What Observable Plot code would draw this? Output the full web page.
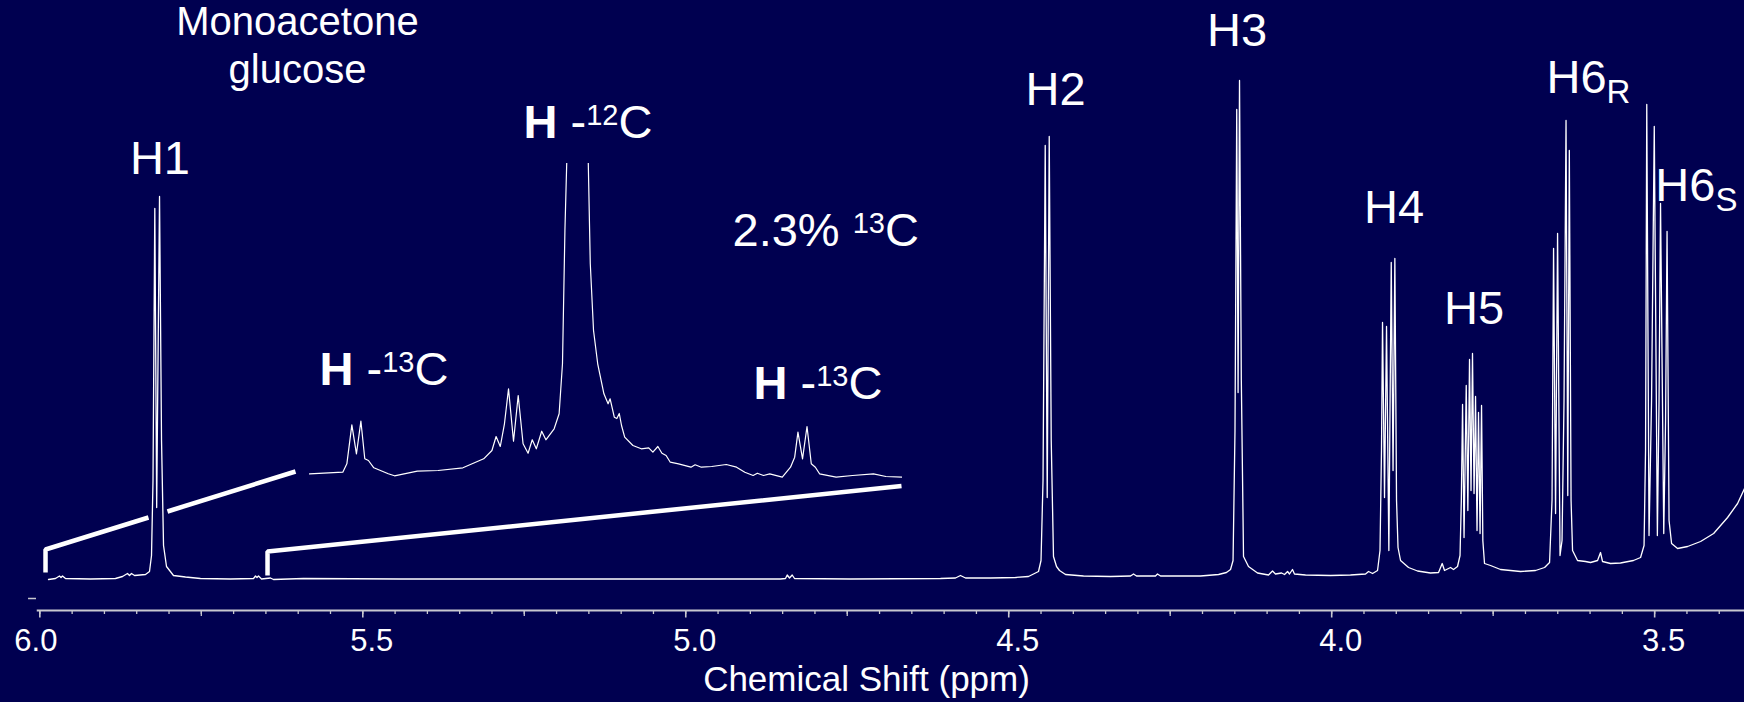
<!DOCTYPE html>
<html>
<head>
<meta charset="utf-8">
<script src="https://cdn.jsdelivr.net/npm/d3@7"></script>
<script src="https://cdn.jsdelivr.net/npm/@observablehq/plot@0.6"></script>
<style>
  html, body { margin: 0; padding: 0; background: #000050; }
  #chart { position: relative; width: 1744px; height: 702px; overflow: hidden; }
</style>
</head>
<body>
<div id="chart"></div>
<script>
// ---------- DATA ----------
// Main 1H spectrum: chemical shift (ppm) and intensity (arbitrary units)
const specPpm = [
  5.9866,5.9758,5.9696,5.9672,5.9649,5.9603,5.9216,5.8829,5.872,5.8643,
  5.8612,5.8581,5.8534,5.8364,5.8302,5.8271,5.8248,5.822,5.8191,5.8147,
  5.8116,5.8085,5.8039,5.7931,5.7745,5.7513,5.7048,5.6692,5.6661,5.6638,
  5.6615,5.6568,5.643,5.6383,5.5918,5.4416,5.2558,5.1010,4.8533,4.8456,
  4.8429,4.8394,4.8352,4.8316,4.745,4.6056,4.5824,4.5747,4.5669,4.5282,
  4.4895,4.4694,4.4601,4.4539,4.45,4.4469,4.4435,4.4404,4.4373,4.4342,
  4.4307,4.426,4.4214,4.4121,4.3842,4.3424,4.3114,4.3068,4.3022,4.2728,
  4.2697,4.2650,4.2031,4.1751,4.1629,4.1566,4.1527,4.1497,4.1470,4.1449,
  4.1427,4.1399,4.1365,4.1288,4.1148,4.0978,4.0916,4.0870,4.0776,4.0730,
  4.0683,4.0653,4.0607,4.0576,4.0405,4.0018,3.9709,3.9476,3.9429,3.9367,
  3.929,3.9252,3.9229,3.9213,3.9182,3.9151,3.9115,3.9078,3.905,3.9022,
  3.8996,3.8973,3.8934,3.881,3.8671,3.8470,3.8346,3.8289,3.8253,3.8160,
  3.8114,3.8052,3.8013,3.7993,3.7974,3.7951,3.7917,3.7892,3.7866,3.7843,
  3.782,3.7796,3.7773,3.775,3.7727,3.7703,3.768,3.766,3.7634,3.7541,
  3.7386,3.7076,3.6844,3.6704,3.6627,3.6589,3.6565,3.6534,3.6503,3.6465,
  3.6434,3.6403,3.6372,3.6345,3.6321,3.6294,3.6271,3.6194,3.607,3.5993,
  3.5884,3.5838,3.5807,3.5683,3.5529,3.5328,3.5218,3.5164,3.5141,3.5122,
  3.5087,3.5048,3.5006,3.4958,3.4932,3.4909,3.4859,3.4831,3.4808,3.4777,
  3.4738,3.4645,3.449,3.4289,3.4087,3.3871,3.3716,3.3609
];
const specIntensity = [
  0,1,3.5,2,3.5,1,0.5,1,3,6,
  4,6,4,5,8,24,99,371,72,383,
  139,34,13,4,2.5,1,0.5,1,3.5,2,
  3.5,0.5,1.5,0,1,0.5,0.5,0.5,0.5,1,
  4.5,1.5,4.5,1,0.5,1,1.5,4,1.5,1.5,
  2,3,6,8,19,99,434,82,443,139,
  23,13,9,5,3.5,3,3.5,5.5,3.5,3.5,
  5.5,3.5,3.5,5,7,10,19,149,470,187,
  499,199,23,13,6.5,4.5,8.5,5.5,6.5,5,
  8,5.5,10,5.5,4.5,4,4.5,5.5,8,6,
  9,29,129,257,82,253,29,317,109,321,
  79,32,19,12,8.5,6.5,7,16,9,12,
  10,13,24,79,175,42,194,69,220,89,
  226,86,183,49,167,46,174,39,16,14,
  10,8,9,12,17,79,331,66,346,24,
  39,179,459,84,429,79,29,19,18,17,
  19,27,18,16,16.5,19,22,34,129,475,
  44,179,453,44,179,376,46,159,348,59,
  36,31,33,38,46,62,76,91
];

// Expanded H1 region (inset): ppm and intensity (vertically expanded, H-12C peak clipped)
const insetPpm = [
  6.0813,6.0486,6.0446,6.0397,6.0352,6.0308,6.027,6.0234,6.0181,6.0039,
  5.9978,5.9754,5.955,5.9306,5.9102,5.9021,5.898,5.8939,5.8898,5.8858,
  5.8809,5.8763,5.8715,5.8666,5.8625,5.8585,5.8532,5.8491,5.841,5.8361,
  5.8328,5.8304,5.8283,5.818,5.8077,5.8055,5.8023,5.7982,5.7921,5.788,
  5.786,5.7819,5.7794,5.777,5.7748,5.7717,5.7636,5.7554,5.7481,5.744,
  5.7391,5.7351,5.731,5.7269,5.7188,5.7066,5.7025,5.6964,5.6862,5.6719,
  5.6618,5.6537,5.6455,5.6414,5.6353,5.6292,5.6169,5.6088,5.6047,5.6015,
  5.597,5.5926,5.5884,5.5844,5.5803,5.564,5.5478,5.5273,5.5151,5.4988
];
const insetIntensity = [
  3.7,5.3,13.7,52.7,23.7,56.3,18.7,17,9.7,3.7,
  1.7,6.3,7,9.7,18.7,27,41,31,53.7,88.7,
  36.3,82,33.7,24.3,37.7,28.7,46.3,37.7,48.7,63.7,
  113.7,247,327,5000,327,214,147,113.7,83.7,73.7,
  78.7,60.3,59,64,52,40.3,32,28.7,29.7,25.3,
  31,24.3,22,15.3,13.7,10.3,12.7,10.3,11,13,
  10.3,5.3,2,4.3,2,3.7,0.3,10.3,20.3,45.3,
  18.7,51,13.7,10.3,3.7,0.3,2,3.7,1,0.3
];

// Expansion brackets (in spectrum coordinates)
const bracketSeg   = ["left","left","left","left2","left2","right","right","right"];
const bracketPpm   = [5.9912,5.9912,5.8318,5.8024,5.6042,5.6475,5.6475,4.666];
const bracketLevel = [7,30,62,68,108,4,28,93.5];

// Axis ticks
const majorTicks  = [6.0, 5.5, 5.0, 4.5, 4.0, 3.5];
const mediumTicks = [5.75, 5.25, 4.75, 4.25, 3.75];
const minorTicks  = d3.range(0, 53).map(i => +(6.0 - i * 0.05).toFixed(2));
const xTitle = "Chemical Shift (ppm)";

// Annotations
const titleText  = ["Monoacetone\nglucose"];
const titlePpm   = [5.6011];
const titleLevel = [497];

const peakLabels     = ["H1", "H2", "H3", "H4", "H5"];
const peakLabelPpm   = [5.8140, 4.4275, 4.1465, 3.9035, 3.7796];
const peakLabelLevel = [406, 475, 534, 357, 256];

// rich labels: **bold**, ^{superscript}, _{subscript}
const richLabels     = ["H6_{R}", "H6_{S}", "**H** -^{12}C", "**H** -^{13}C", "**H** -^{13}C", "2.3% ^{13}C"];
const richLabelPpm   = [3.6674, 3.4990, 5.2512, 5.5670, 4.8951, 4.9276];
const richLabelLevel = [487, 379, 442, 195, 181, 334];

// ---------- STYLE ----------
const NAVY = "#000050";
const FONT = "'Liberation Sans', Arial, Helvetica, sans-serif";
const AXIS = "#c8c8d0";
const AXIS_LEVEL = -31;   // frame bottom in intensity units

const spectrum = specPpm.map((p, i) => ({ppm: p, v: specIntensity[i]}));
const inset = insetPpm.map((p, i) => ({ppm: p, v: insetIntensity[i]}));
const brackets = bracketPpm.map((p, i) => ({ppm: p, v: bracketLevel[i], seg: bracketSeg[i]}));

const main = Plot.plot({
  width: 1744,
  height: 702,
  marginTop: 0, marginRight: 0, marginLeft: 0, marginBottom: 92,
  x: {domain: [6.0609, 3.3609], axis: null},
  y: {domain: [AXIS_LEVEL, 579], axis: null},
  style: {background: NAVY, color: "white", fontFamily: FONT, overflow: "visible"},
  marks: [
    // axis line and ticks (ticks point down from the axis line)
    Plot.ruleY([AXIS_LEVEL], {x1: 6.004, x2: 3.3609, stroke: AXIS, strokeWidth: 2}),
    Plot.ruleY([-19], {x1: 6.0175, x2: 6.0052, stroke: AXIS, strokeWidth: 1.5}),
    Plot.ruleX(minorTicks, {x: d => d, y1: AXIS_LEVEL, y2: AXIS_LEVEL - 4, stroke: AXIS, strokeWidth: 1.3}),
    Plot.ruleX(mediumTicks, {x: d => d, y1: AXIS_LEVEL, y2: AXIS_LEVEL - 6, stroke: AXIS, strokeWidth: 1.3}),
    Plot.ruleX(majorTicks, {x: d => d, y1: AXIS_LEVEL, y2: AXIS_LEVEL - 7.5, stroke: AXIS, strokeWidth: 1.6}),
    Plot.text(majorTicks.slice(0, 1), {x: d => d, y: AXIS_LEVEL, text: d => d.toFixed(1), lineAnchor: "top", dy: 18, dx: -4, fontSize: 31, fill: "white"}),
    Plot.text(majorTicks.slice(1), {x: d => d, y: AXIS_LEVEL, text: d => d.toFixed(1), lineAnchor: "top", dy: 18, dx: 9, fontSize: 31, fill: "white"}),
    Plot.text([xTitle], {frameAnchor: "bottom", dx: -6, dy: 80, lineAnchor: "bottom", fontSize: 35, fill: "white"}),
    // spectrum
    Plot.line(spectrum, {x: "ppm", y: "v", stroke: "white", strokeWidth: 1.3, strokeLinejoin: "round"}),
    // expansion brackets
    Plot.line(brackets, {x: "ppm", y: "v", z: "seg", stroke: "white", strokeWidth: 4.5, strokeLinejoin: "miter", strokeLinecap: "butt"}),
    // labels
    Plot.text(titleText, {x: titlePpm, y: titleLevel, fontSize: 40, lineHeight: 1.2, lineAnchor: "bottom", textAnchor: "middle", fill: "white"}),
    Plot.text(peakLabels, {x: peakLabelPpm, y: peakLabelLevel, fontSize: 47, lineAnchor: "bottom", textAnchor: "middle", fill: "white"}),
    Plot.text(richLabels, {x: richLabelPpm, y: richLabelLevel, fontSize: 47, lineAnchor: "bottom", textAnchor: "start", fill: "white"})
  ]
});

const insetPlot = Plot.plot({
  width: 593,
  height: 320,
  marginTop: 0, marginRight: 0, marginBottom: 0, marginLeft: 0,
  x: {domain: [6.0813, 5.4988], axis: null},
  y: {domain: [-6, 314], axis: null},
  style: {background: "transparent", overflow: "hidden"},
  marks: [
    Plot.line(inset, {x: "ppm", y: "v", stroke: "white", strokeWidth: 1.2})
  ]
});
insetPlot.style.position = "absolute";
insetPlot.style.left = "309px";
insetPlot.style.top = "163px";
insetPlot.style.overflow = "hidden";

// rich-text post-processing (bold / superscript / subscript as tspans)
const SUP = {size: 29, shift: -13};
const SUB = {size: 33, shift: 10};
d3.select(main).selectAll("text").each(function() {
  const s = this.textContent;
  if (!/\*\*|\^\{|_\{/.test(s)) return;
  this.textContent = "";
  this.style.whiteSpace = "pre";
  let shift = 0;
  const re = /\*\*(.+?)\*\*|\^\{(.+?)\}|_\{(.+?)\}|([^*^_]+)/g;
  let m;
  while ((m = re.exec(s))) {
    const ts = document.createElementNS("http://www.w3.org/2000/svg", "tspan");
    let target = 0;
    if (m[1] != null) { ts.textContent = m[1]; ts.setAttribute("font-weight", "bold"); }
    else if (m[2] != null) { ts.textContent = m[2]; ts.setAttribute("font-size", SUP.size); target = SUP.shift; }
    else if (m[3] != null) { ts.textContent = m[3]; ts.setAttribute("font-size", SUB.size); target = SUB.shift; }
    else { ts.textContent = m[4]; }
    if (target !== shift) { ts.setAttribute("dy", target - shift); shift = target; }
    this.appendChild(ts);
  }
});

const chart = document.getElementById("chart");
chart.appendChild(main);
chart.appendChild(insetPlot);
</script>
</body>
</html>
